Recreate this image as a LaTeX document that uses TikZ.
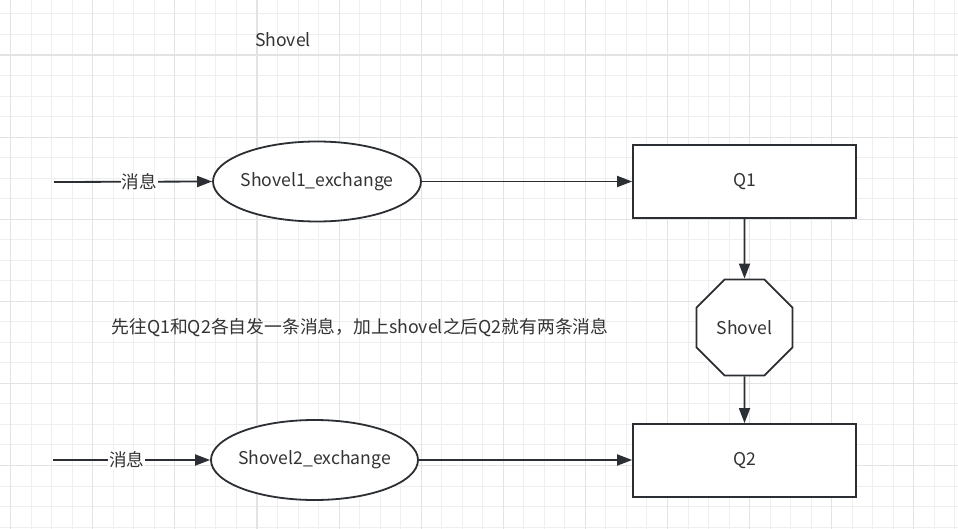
\documentclass[tikz,border=0pt]{standalone}
\usepackage{fontspec}
\setmainfont{Noto Sans CJK SC}
\usetikzlibrary{shapes.geometric,arrows.meta}
\definecolor{ink}{HTML}{2B2F33}
\definecolor{txt}{HTML}{333333}
\definecolor{gminor}{HTML}{EFEFEF}
\definecolor{gmajor}{HTML}{E3E3E3}
\begin{document}
\begin{tikzpicture}[x=1pt,y=-1pt,
  every node/.style={font=\fontsize{17.6}{20}\selectfont, text=txt},
  box/.style={draw=ink, line width=1.8pt, fill=white, inner sep=0pt},
  oval/.style={box, ellipse},
  rect/.style={box, rectangle, minimum width=223pt, minimum height=73pt},
  octa/.style={box, regular polygon, regular polygon sides=8, minimum size=104pt},
  conn/.style={draw=ink, line width=1.8pt, -{Triangle[length=15pt,width=11pt]}},
  lbl/.style={fill=white, inner sep=1pt},
  gminorl/.style={draw=gminor, line width=1pt},
  gmajorl/.style={draw=gmajor, line width=1.1pt}]
\useasboundingbox (0,0) rectangle (958,529);
\fill[white] (0,0) rectangle (958,529);
% grid
\foreach \i in {-1,...,47} {
  \draw[gminorl] ({10.7+20.525*\i},0) -- ({10.7+20.525*\i},529);
}
\foreach \i in {-3,...,26} {
  \draw[gminorl] (0,{55+20.525*\i}) -- (958,{55+20.525*\i});
}
\foreach \i in {0,...,11} {
  \draw[gmajorl] ({10.7+82.1*\i},0) -- ({10.7+82.1*\i},529);
}
\foreach \i in {-1,...,6} {
  \draw[gmajorl] (0,{55+82.1*\i}) -- (958,{55+82.1*\i});
}
% nodes
\node (title) at (283,40) {Shovel};
\node[oval, minimum width=208pt, minimum height=80pt] (e1) at (317,181.5) {\makebox[0pt]{Shovel1\_exchange}};
\node[oval, minimum width=207pt, minimum height=80pt] (e2) at (314.5,460) {\makebox[0pt]{Shovel2\_exchange}};
\node[rect] (q1) at (744.5,181.5) {Q1};
\node[rect] (q2) at (744.5,460.5) {Q2};
\node[octa] (oct) at (744.5,327.5) {Shovel};
\node[font=\fontsize{17.8}{20}\selectfont] (note) at (360,328) {先往Q1和Q2各自发一条消息，加上shovel之后Q2就有两条消息};
\coordinate (s1) at (54,182);
\coordinate (s2) at (53,460);
% connectors
\draw[conn] (s1) -- node[lbl, pos=0.54] {消息} (e1.west);
\draw[conn] (s2) -- node[lbl, pos=0.47] {消息} (e2.west);
\draw[conn] (e1.east) -- (e1.east -| q1.west);
\draw[conn] (e2.east) -- (e2.east -| q2.west);
\draw[conn] (q1.south) -- (oct.north);
\draw[conn] (oct.south) -- (q2.north);
\end{tikzpicture}
\end{document}
